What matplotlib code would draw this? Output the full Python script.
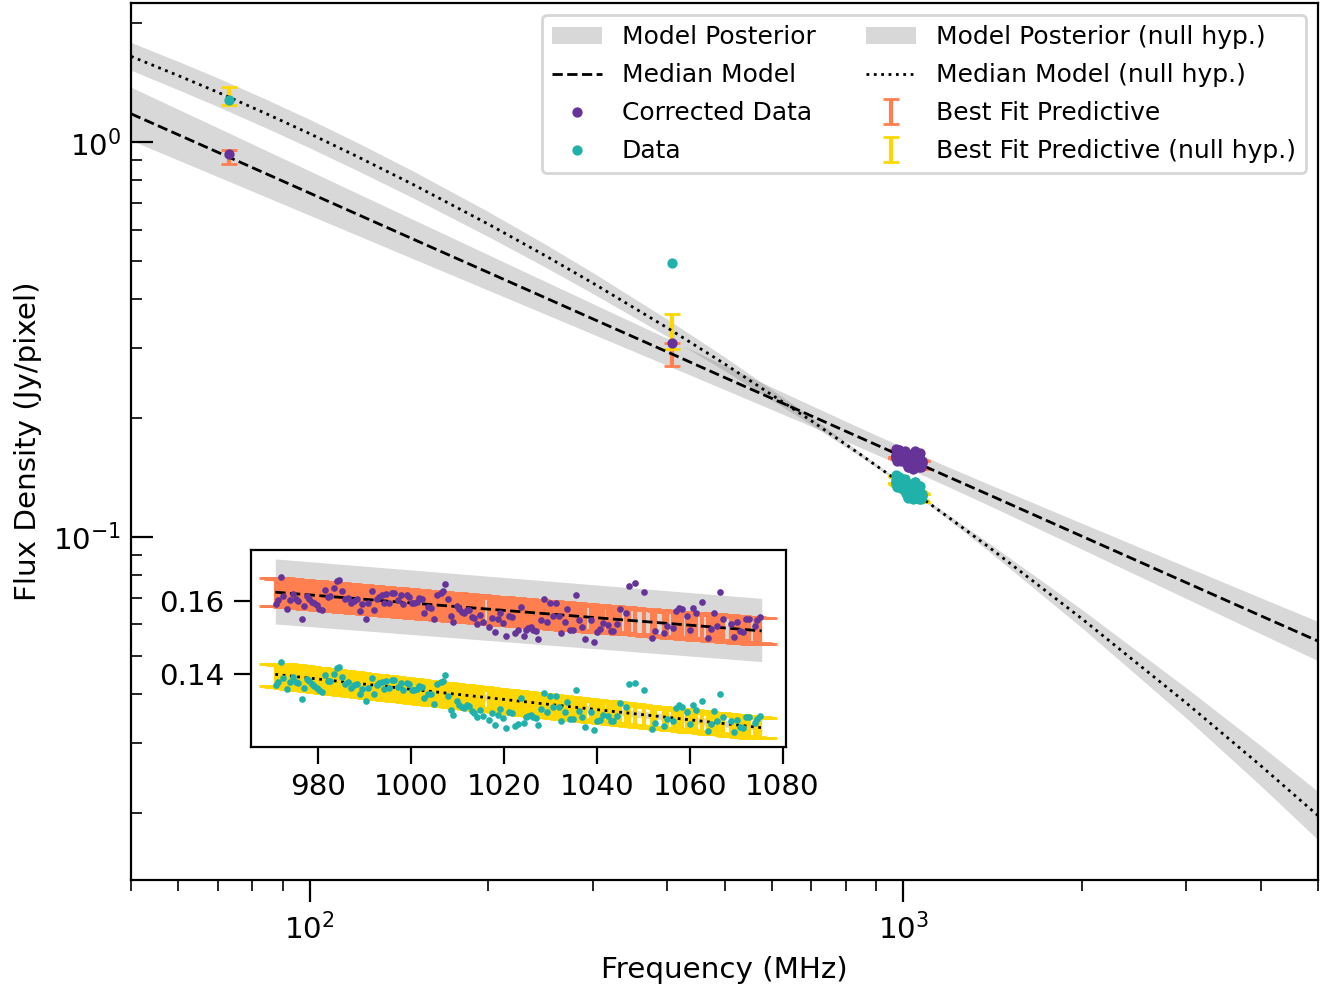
import numpy as np
import matplotlib
matplotlib.use("Agg")
import matplotlib.pyplot as plt

plt.rcParams["font.size"] = 10.6

# Colours
C_CORR = "#663399"
C_DATA = "#20b2aa"
C_PRED = "#ff7f50"
C_PRED0 = "#ffd700"

# Model curves on a frequency grid (MHz)
model_freq = [50, 60, 70, 85, 100, 120, 150, 200, 250, 300, 400, 500, 700, 850, 1000, 1200, 1400,
              2000, 3000, 4000, 5000]
med = [1.179, 1.044, 0.942, 0.8275, 0.7423, 0.6571, 0.5659, 0.4671, 0.4025, 0.3563, 0.2941, 0.2532,
       0.2024, 0.1777, 0.1594, 0.1411, 0.1274, 0.1003, 0.0765, 0.0631, 0.0544]
post_hi = [1.377, 1.211, 1.087, 0.9476, 0.8450, 0.7427, 0.6345, 0.5181, 0.4428, 0.3894, 0.3182, 0.2718,
           0.2151, 0.1881, 0.1685, 0.1495, 0.1355, 0.1082, 0.0839, 0.0701, 0.0610]
post_lo = [1.010, 0.9000, 0.8167, 0.7227, 0.6521, 0.5813, 0.5047, 0.4211, 0.3658, 0.3260, 0.2718, 0.2359,
           0.1905, 0.1679, 0.1508, 0.1332, 0.1197, 0.0930, 0.0697, 0.0568, 0.0485]
med0 = [1.648, 1.474, 1.337, 1.1748, 1.050, 0.9203, 0.7780, 0.6193, 0.5143, 0.4391, 0.3386, 0.2742,
        0.1967, 0.1610, 0.1355, 0.1112, 0.0937, 0.0620, 0.0379, 0.02633, 0.01965]
post0_hi = [1.787, 1.601, 1.454, 1.2774, 1.141, 0.9987, 0.8416, 0.6661, 0.5499, 0.4669, 0.3560, 0.2855,
            0.2013, 0.1630, 0.1364, 0.1128, 0.0960, 0.0654, 0.0414, 0.02960, 0.02262]
post0_lo = [1.520, 1.357, 1.230, 1.0805, 0.9662, 0.8481, 0.7193, 0.5758, 0.4810, 0.4130, 0.3220, 0.2634,
            0.1922, 0.1590, 0.1346, 0.1096, 0.0914, 0.0588, 0.0347, 0.02342, 0.01707]

# Same curves over the inset band only
inset_freq = [970.8, 1075.5]
in_med = [0.1625, 0.1519]
in_hi = [0.1716, 0.1608]
in_lo = [0.1538, 0.1435]
in_med0 = [0.1400, 0.1254]
in_hi0 = [0.1410, 0.1263]
in_lo0 = [0.1390, 0.1245]

# Low frequency points
low_freq = [73, 408]
corr_low = [0.931, 0.309]
data_low = [1.277, 0.495]
pred_low = [0.918, 0.290]
pred_low_err = [0.036, 0.019]
pred0_low = [1.310, 0.333]
pred0_low_err = [0.070, 0.034]

# Channels around 1 GHz
freq_in = [
    970.90, 971.47, 972.04, 972.54, 973.26, 973.98, 974.55, 975.20, 975.77, 976.49,
    977.06, 977.71, 978.14, 978.64, 979.21, 979.71, 980.29, 980.79, 981.51, 982.08,
    982.58, 983.37, 984.01, 984.52, 985.23, 985.81, 986.38, 987.10, 987.67, 988.32,
    989.03, 989.53, 990.32, 990.82, 991.54, 992.11, 992.69, 993.19, 993.69, 994.19,
    994.62, 995.34, 995.84, 996.42, 997.13, 997.85, 998.35, 999.07, 999.57, 1000.14,
    1000.72, 1001.22, 1001.72, 1002.29, 1002.87, 1003.58, 1004.30, 1005.02,
    1005.70, 1006.38, 1006.81, 1007.24, 1008.03, 1008.53, 1009.10, 1009.82, 1010.39, 1010.90,
    1011.40, 1011.97, 1012.47, 1013.05, 1013.55, 1014.12, 1014.84, 1015.41, 1016.70, 1017.35,
    1017.99, 1018.64, 1019.21, 1019.86, 1020.50, 1021.08, 1021.65, 1022.37, 1022.94, 1023.66,
    1024.30, 1024.80, 1025.30, 1025.81, 1026.31, 1026.88, 1027.38, 1028.10, 1028.60, 1029.32,
    1029.89, 1030.61, 1031.18, 1031.83, 1032.40, 1033.12, 1033.69, 1034.34, 1034.91, 1035.63,
    1036.20, 1036.85, 1037.49, 1038.85, 1039.43, 1040.07, 1040.65, 1041.36,
    1042.44, 1043.01, 1043.51, 1044.44, 1045.02, 1046.24, 1046.88, 1048.17, 1050.11, 1051.97,
    1052.62, 1054.48, 1055.13, 1056.42, 1056.99, 1057.63, 1058.28, 1059.50, 1060.14, 1060.79,
    1061.43, 1062.65, 1063.94, 1064.52, 1065.16, 1065.88, 1066.45, 1067.10, 1068.96, 1069.61,
    1070.25, 1070.82, 1071.47, 1072.19, 1072.76, 1073.98, 1074.55, 1075.05,
]
corr_in = [
    0.1592, 0.1603, 0.1666, 0.1614, 0.1580, 0.1603, 0.1621, 0.1605, 0.1601, 0.1551,
    0.1587, 0.1614, 0.1607, 0.1598, 0.1594, 0.1589, 0.1580, 0.1576, 0.1630, 0.1612,
    0.1614, 0.1636, 0.1655, 0.1657, 0.1628, 0.1605, 0.1610, 0.1594, 0.1601, 0.1605,
    0.1574, 0.1592, 0.1552, 0.1594, 0.1627, 0.1576, 0.1605, 0.1612, 0.1616, 0.1594,
    0.1619, 0.1596, 0.1624, 0.1623, 0.1603, 0.1616, 0.1592, 0.1616, 0.1612, 0.1594,
    0.1596, 0.1598, 0.1609, 0.1605, 0.1569, 0.1585, 0.1583, 0.1551,
    0.1618, 0.1623, 0.1628, 0.1648, 0.1605, 0.1560, 0.1542, 0.1587, 0.1578, 0.1571,
    0.1567, 0.1576, 0.1576, 0.1558, 0.1553, 0.1538, 0.1562, 0.1543, 0.1531, 0.1553,
    0.1516, 0.1551, 0.1569, 0.1540, 0.1506, 0.1560, 0.1556, 0.1514, 0.1522, 0.1585,
    0.1504, 0.1522, 0.1526, 0.1531, 0.1522, 0.1520, 0.1498, 0.1549, 0.1605, 0.1542,
    0.1596, 0.1560, 0.1594, 0.1561, 0.1513, 0.1544, 0.1578, 0.1522, 0.1522, 0.1618,
    0.1549, 0.1531, 0.1497, 0.1549, 0.1488, 0.1517, 0.1523, 0.1540,
    0.1535, 0.1520, 0.1519, 0.1537, 0.1580, 0.1569, 0.1643, 0.1649, 0.1625, 0.1499,
    0.1520, 0.1512, 0.1533, 0.1528, 0.1573, 0.1582, 0.1578, 0.1560, 0.1522, 0.1583,
    0.1568, 0.1597, 0.1500, 0.1523, 0.1569, 0.1533, 0.1625, 0.1551, 0.1537, 0.1502,
    0.1542, 0.1520, 0.1517, 0.1551, 0.1552, 0.1533, 0.1549, 0.1558,
]
data_in = [
    0.1371, 0.1380, 0.1434, 0.1389, 0.1360, 0.1379, 0.1394, 0.1380, 0.1377, 0.1333,
    0.1363, 0.1386, 0.1381, 0.1373, 0.1368, 0.1364, 0.1356, 0.1352, 0.1398, 0.1382,
    0.1383, 0.1402, 0.1418, 0.1420, 0.1394, 0.1374, 0.1378, 0.1364, 0.1370, 0.1373,
    0.1346, 0.1361, 0.1327, 0.1362, 0.1390, 0.1346, 0.1370, 0.1376, 0.1380, 0.1360,
    0.1381, 0.1362, 0.1385, 0.1384, 0.1366, 0.1377, 0.1356, 0.1377, 0.1373, 0.1357,
    0.1358, 0.1360, 0.1369, 0.1365, 0.1335, 0.1347, 0.1346, 0.1318,
    0.1374, 0.1379, 0.1382, 0.1399, 0.1341, 0.1303, 0.1288, 0.1326, 0.1317, 0.1312,
    0.1307, 0.1315, 0.1314, 0.1299, 0.1295, 0.1282, 0.1302, 0.1286, 0.1275, 0.1293,
    0.1262, 0.1290, 0.1305, 0.1280, 0.1252, 0.1296, 0.1293, 0.1258, 0.1264, 0.1336,
    0.1268, 0.1283, 0.1286, 0.1290, 0.1282, 0.1280, 0.1262, 0.1304, 0.1350, 0.1297,
    0.1342, 0.1311, 0.1340, 0.1312, 0.1271, 0.1297, 0.1325, 0.1278, 0.1277, 0.1358,
    0.1299, 0.1284, 0.1256, 0.1298, 0.1247, 0.1271, 0.1276, 0.1289,
    0.1285, 0.1272, 0.1271, 0.1285, 0.1321, 0.1311, 0.1373, 0.1376, 0.1356, 0.1250,
    0.1267, 0.1259, 0.1277, 0.1271, 0.1308, 0.1316, 0.1312, 0.1297, 0.1264, 0.1315,
    0.1302, 0.1326, 0.1244, 0.1263, 0.1300, 0.1271, 0.1347, 0.1284, 0.1272, 0.1243,
    0.1275, 0.1257, 0.1254, 0.1282, 0.1283, 0.1267, 0.1279, 0.1286,
]

# Best fit parameters behind the predictive error bars
pred_s1000, pred_index, pred_frac = 0.1594, -0.668, 0.023
pred0_s1000, pred0_index, pred0_curv, pred0_frac = 0.1355, -1.072, -0.183, 0.022


def predictive(freq):
    x = np.log10(np.asarray(freq) / 1000.0)
    p = pred_s1000 * 10 ** (pred_index * x)
    p0 = pred0_s1000 * 10 ** (pred0_index * x + pred0_curv * x ** 2)
    return p, p0


def main():
    assert len(freq_in) == len(corr_in) == len(data_in)
    p_in, p0_in = predictive(freq_in)

    fig = plt.figure(figsize=(6.65, 4.96), dpi=200)
    ax = fig.add_axes([0.0985, 0.1129, 0.8925, 0.8841])
    ax.set_xscale("log")
    ax.set_yscale("log")

    band = ax.fill_between(model_freq, post_lo, post_hi, color="gray", alpha=0.3, lw=0, zorder=1)
    band0 = ax.fill_between(model_freq, post0_lo, post0_hi, color="gray", alpha=0.3, lw=0, zorder=1)
    l_med, = ax.plot(model_freq, med, color="k", ls="--", lw=1, zorder=3)
    l_med0, = ax.plot(model_freq, med0, color="k", ls=":", lw=1, zorder=3)

    f_all = list(low_freq) + list(freq_in)
    eb = ax.errorbar(f_all, pred_low + list(p_in),
                     yerr=pred_low_err + list(pred_frac * p_in),
                     fmt="none", ecolor=C_PRED, capsize=3, zorder=2)
    eb0 = ax.errorbar(f_all, pred0_low + list(p0_in),
                      yerr=pred0_low_err + list(pred0_frac * p0_in),
                      fmt="none", ecolor=C_PRED0, capsize=3, zorder=2)
    l_corr, = ax.plot(f_all, corr_low + corr_in, "o", ls="none", color=C_CORR, ms=3.7, mew=0, zorder=4)
    l_data, = ax.plot(f_all, data_low + data_in, "o", ls="none", color=C_DATA, ms=3.7, mew=0, zorder=4)

    ax.set_xlim(50, 5000)
    ax.set_ylim(0.0135, 2.25)
    ax.tick_params(axis="x", which="major", direction="out", length=8)
    ax.tick_params(axis="x", which="minor", direction="out", length=4)
    ax.tick_params(axis="y", which="major", direction="in", length=8)
    ax.tick_params(axis="y", which="minor", direction="in", length=4)
    ax.set_xlabel("Frequency (MHz)")
    ax.set_ylabel("Flux Density (Jy/pixel)")

    ax.legend(
        [band, l_med, l_corr, l_data, band0, l_med0, eb, eb0],
        ["Model Posterior", "Median Model", "Corrected Data", "Data",
         "Model Posterior (null hyp.)", "Median Model (null hyp.)",
         "Best Fit Predictive", "Best Fit Predictive (null hyp.)"],
        ncol=2, loc="upper right", fontsize=9, labelspacing=0.56,
    )

    # Inset: zoom on the 1 GHz channels
    axin = fig.add_axes([0.1887, 0.2470, 0.4023, 0.1986])
    axin.fill_between(inset_freq, in_lo, in_hi, color="gray", alpha=0.3, lw=0, zorder=1)
    axin.fill_between(inset_freq, in_lo0, in_hi0, color="gray", alpha=0.3, lw=0, zorder=1)
    axin.errorbar(freq_in, p_in, yerr=pred_frac * p_in, fmt="none", ecolor=C_PRED, capsize=6, zorder=2)
    axin.errorbar(freq_in, p0_in, yerr=pred0_frac * p0_in, fmt="none", ecolor=C_PRED0, capsize=6, zorder=2)
    axin.plot(inset_freq, in_med, color="k", ls="--", lw=1, zorder=3)
    axin.plot(inset_freq, in_med0, color="k", ls=":", lw=1, zorder=3)
    axin.plot(freq_in, corr_in, "o", ls="none", color=C_CORR, ms=2.4, mew=0, zorder=4)
    axin.plot(freq_in, data_in, "o", ls="none", color=C_DATA, ms=2.4, mew=0, zorder=4)
    axin.tick_params(direction="out", length=6)

    fig.savefig("out.png", dpi=200)
    plt.close(fig)


if __name__ == "__main__":
    main()
